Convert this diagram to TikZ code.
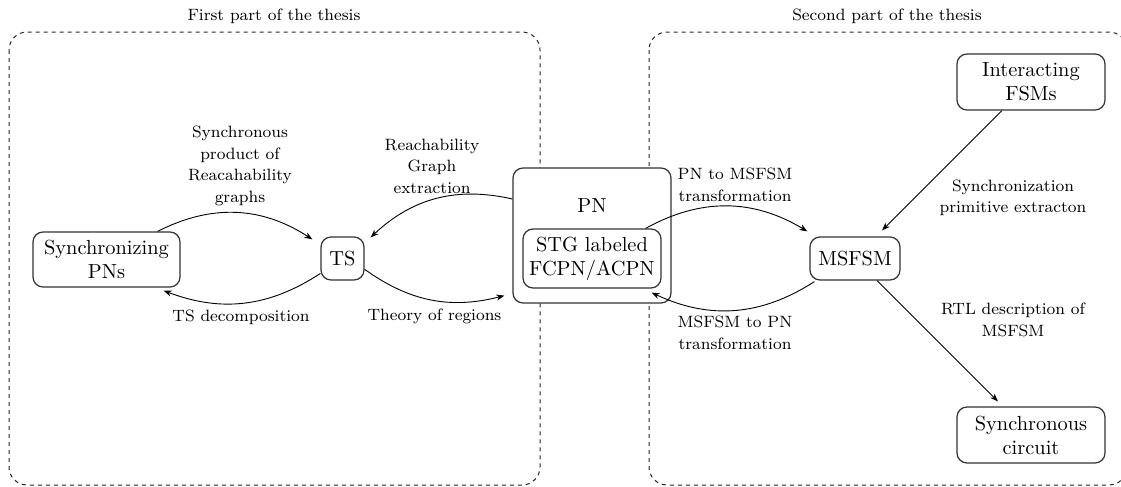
\documentclass[tikz,border=0pt]{standalone}
\usetikzlibrary{arrows.meta}
\newcommand\boxfnt{\fontsize{10.2}{12}\selectfont}
\newcommand\labfnt{\fontsize{8.2}{10.75}\selectfont}
\begin{document}
\begin{tikzpicture}[x=0.5pt,y=-0.5pt,
  box/.style={draw=black!80, line width=0.6pt, rounded corners=5pt,
    align=center, inner sep=1pt, font=\boxfnt},
  lab/.style={align=center, font=\labfnt, inner sep=0pt},
  part/.style={draw=black!85, line width=0.5pt, rounded corners=9pt,
    dash pattern=on 2pt off 2pt},
  conn/.style={-{Stealth[length=4pt,width=3pt,inset=1.2pt]}, line width=0.45pt}]
\useasboundingbox (0,0) rectangle (1121,487);

% the two parts of the work
\draw[part] (9,32) rectangle (540,485);
\draw[part] (649,32) rectangle (1127,485);
\node[lab] (firstpart) at (274,16) {First part of the thesis};
\node[lab] (secondpart) at (887,16) {Second part of the thesis};

% models
\node[box, minimum width=73.5pt, minimum height=27.5pt] (sync) at (106.5,259.5) {Synchronizing\\PNs};
\node[box, minimum width=21.5pt, minimum height=21.5pt] (ts) at (342.5,258.5) {TS};
\node[box, fill=white, minimum width=79pt, minimum height=67.5pt] (pn) at (592,235.5) {};
\node[font=\boxfnt, inner sep=0pt] (pntext) at (592,206) {PN};
\node[box, minimum width=69pt, minimum height=29.5pt] (stg) at (592,258.5) {STG labeled\\FCPN/ACPN};
\node[box, minimum width=45pt, minimum height=21.5pt] (msfsm) at (855,258.5) {MSFSM};
\node[box, minimum width=74pt, minimum height=28pt] (ifsm) at (1031,82) {Interacting\\FSMs};
\node[box, minimum width=74pt, minimum height=28pt] (sc) at (1031,435) {Synchronous\\circuit};

% transformations
\draw[conn] ([xshift=-11.5pt]sync.north east) to[bend left=30] ([shift={(-4pt,-1.5pt)}]ts.north west);
\draw[conn] ([yshift=18.25pt]pn.west) to[bend right=28] ([shift={(3pt,-0.5pt)}]ts.north east);
\draw[conn] (ts.-26) to[bend right=25] ([shift={(-4pt,4pt)}]pn.south west);
\draw[conn] (ts.214) to[bend left=27] ([shift={(-8.5pt,-1.5pt)}]sync.south east);
\draw[conn] ([xshift=-8pt]stg.north east) to[bend left=30] ([shift={(-1pt,2.5pt)}]msfsm.north west);
\draw[conn] ([shift={(2.5pt,-0.5pt)}]msfsm.south west) to[bend left=29] ([shift={(-5pt,-2pt)}]stg.south east);
\draw[conn] ([xshift=-14.5pt]ifsm.south) -- ([shift={(13.5pt,3pt)}]msfsm.north);
\draw[conn] ([xshift=11pt]msfsm.south) -- ([shift={(-16.5pt,2.5pt)}]sc.north);

% transformation names
\node[lab] (lsyn) at (240,166) {Synchronous\\product of\\Reacahability\\graphs};
\node[lab] (lreach) at (432,166) {Reachability\\Graph\\extraction};
\node[lab] (ldec) at (241,317) {TS decomposition};
\node[lab] (lreg) at (434.5,316) {Theory of regions};
\node[lab] (lpnms) at (735,185) {PN to MSFSM\\transformation};
\node[lab] (lmspn) at (735,333) {MSFSM to PN\\transformation};
\node[lab] (lprim) at (1013,198) {Synchronization\\primitive extracton};
\node[lab] (lrtl) at (1013,320) {RTL description of\\MSFSM};
\end{tikzpicture}
\end{document}
